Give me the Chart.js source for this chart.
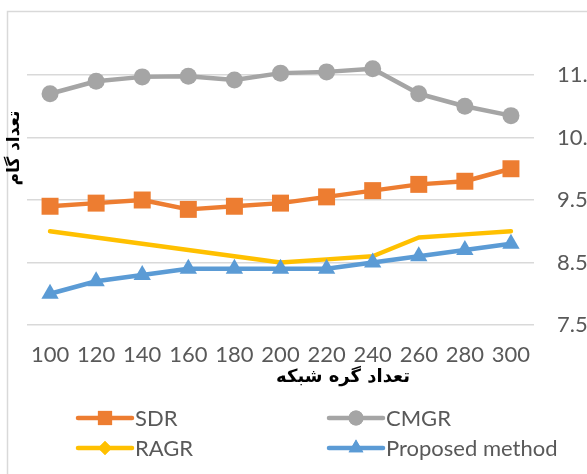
<!DOCTYPE html>
<html><head><meta charset="utf-8">
<script src="https://cdn.jsdelivr.net/npm/chart.js@4/dist/chart.umd.min.js"></script>
<style>html,body{margin:0;padding:0;background:#fff;overflow:hidden}canvas{display:block}</style>
</head><body><canvas id="c" width="587" height="474"></canvas>
<script>
const categories = ['100','120','140','160','180','200','220','240','260','280','300'];
const sdr      = [9.4, 9.45, 9.5, 9.35, 9.4, 9.45, 9.55, 9.65, 9.75, 9.8, 10.0];
const cmgr     = [11.2, 11.4, 11.47, 11.48, 11.42, 11.53, 11.55, 11.6, 11.2, 11.0, 10.85];
const ragr     = [9.0, 8.9, 8.8, 8.7, 8.6, 8.5, 8.55, 8.6, 8.9, 8.95, 9.0];
const proposed = [8.0, 8.2, 8.3, 8.4, 8.4, 8.4, 8.4, 8.5, 8.6, 8.7, 8.8];
const seriesNames = ['SDR', 'CMGR', 'RAGR', 'Proposed method'];
const yMin = 7.5, yMax = 11.5, yStep = 1;
const yTitle = 'تعداد گام';
const xTitle = 'تعداد گره شبکه';

const colors = ['#ED7D31', '#A5A5A5', '#FFC000', '#5B9BD5'];
const styles = ['rect', 'circle', 'rectRot', 'triangle'];
const chartRadius = [12, 8.5, 0, 10];
const legendRadius = [10, 7.5, 7, 8.5];
const seriesData = [sdr, cmgr, ragr, proposed];
const drawOrder = [3, 2, 1, 0];

const LABEL_FONT = '22px Lato';
const TEXT_COLOR = '#595959';

const extras = {
  id: 'extras',
  beforeDraw(chart) {
    const ctx = chart.ctx;
    ctx.save();
    ctx.fillStyle = '#fff';
    ctx.fillRect(0, 0, chart.width, chart.height);
    ctx.strokeStyle = '#D9D9D9';
    ctx.lineWidth = 1.5;
    ctx.strokeRect(7.5, 11.5, chart.width + 20, chart.height + 20);
    ctx.restore();
  },
  afterDraw(chart) {
    const ctx = chart.ctx;
    ctx.save();
    ctx.fillStyle = '#000';
    ctx.font = 'bold 17px "DejaVu Sans"';
    ctx.textAlign = 'center';
    ctx.textBaseline = 'middle';
    ctx.save();
    ctx.translate(15, 148);
    ctx.rotate(-Math.PI / 2);
    ctx.fillText(yTitle, 0, 0);
    ctx.restore();
    ctx.font = 'bold 18px "DejaVu Sans"';
    ctx.fillText(xTitle, 343, 377);
    const pos = [[78, 418], [329, 418], [78, 448], [329, 448]];
    chart.data.datasets.forEach((ds, i) => {
      const [x, y] = pos[i];
      ctx.strokeStyle = colors[i];
      ctx.lineWidth = 4.5;
      ctx.lineCap = 'round';
      ctx.beginPath();
      ctx.moveTo(x, y);
      ctx.lineTo(x + 54, y);
      ctx.stroke();
      ctx.fillStyle = colors[i];
      Chart.helpers.drawPoint(ctx, {pointStyle: styles[i], radius: legendRadius[i], rotation: 0, borderWidth: 0}, x + 27, y);
      ctx.fill();
      ctx.fillStyle = TEXT_COLOR;
      ctx.font = LABEL_FONT;
      ctx.textAlign = 'left';
      ctx.textBaseline = 'middle';
      ctx.fillText(ds.label, x + 57, y + 1);
    });
    ctx.restore();
  }
};

new Chart(document.getElementById('c'), {
  type: 'line',
  data: {
    labels: categories,
    datasets: seriesData.map((d, i) => ({
      label: seriesNames[i],
      data: d,
      borderColor: colors[i],
      backgroundColor: colors[i],
      borderWidth: 4.5,
      borderCapStyle: 'round',
      borderJoinStyle: 'round',
      pointStyle: styles[i],
      pointRadius: chartRadius[i],
      pointHoverRadius: chartRadius[i],
      pointBorderWidth: 0,
      pointBackgroundColor: colors[i],
      tension: 0,
      clip: false,
      order: drawOrder[i]
    }))
  },
  options: {
    responsive: false,
    animation: false,
    events: [],
    layout: {padding: {left: 27, top: 75, right: 0, bottom: 0}},
    plugins: {legend: {display: false}, tooltip: {enabled: false}, title: {display: false}},
    scales: {
      x: {
        offset: true,
        grid: {display: false, drawTicks: false},
        border: {display: false},
        ticks: {font: {family: 'Lato', size: 22}, color: TEXT_COLOR, padding: 17, maxRotation: 0, autoSkip: false},
        afterFit(s) { s.height = 149; }
      },
      y: {
        position: 'right',
        min: yMin, max: yMax,
        grid: {color: '#D9D9D9', lineWidth: 1.5, drawTicks: false},
        border: {display: false},
        ticks: {stepSize: yStep, font: {family: 'Lato', size: 22}, color: TEXT_COLOR, padding: 23},
        afterFit(s) { s.width = 53; }
      }
    }
  },
  plugins: [extras]
});
</script>
</body></html>
